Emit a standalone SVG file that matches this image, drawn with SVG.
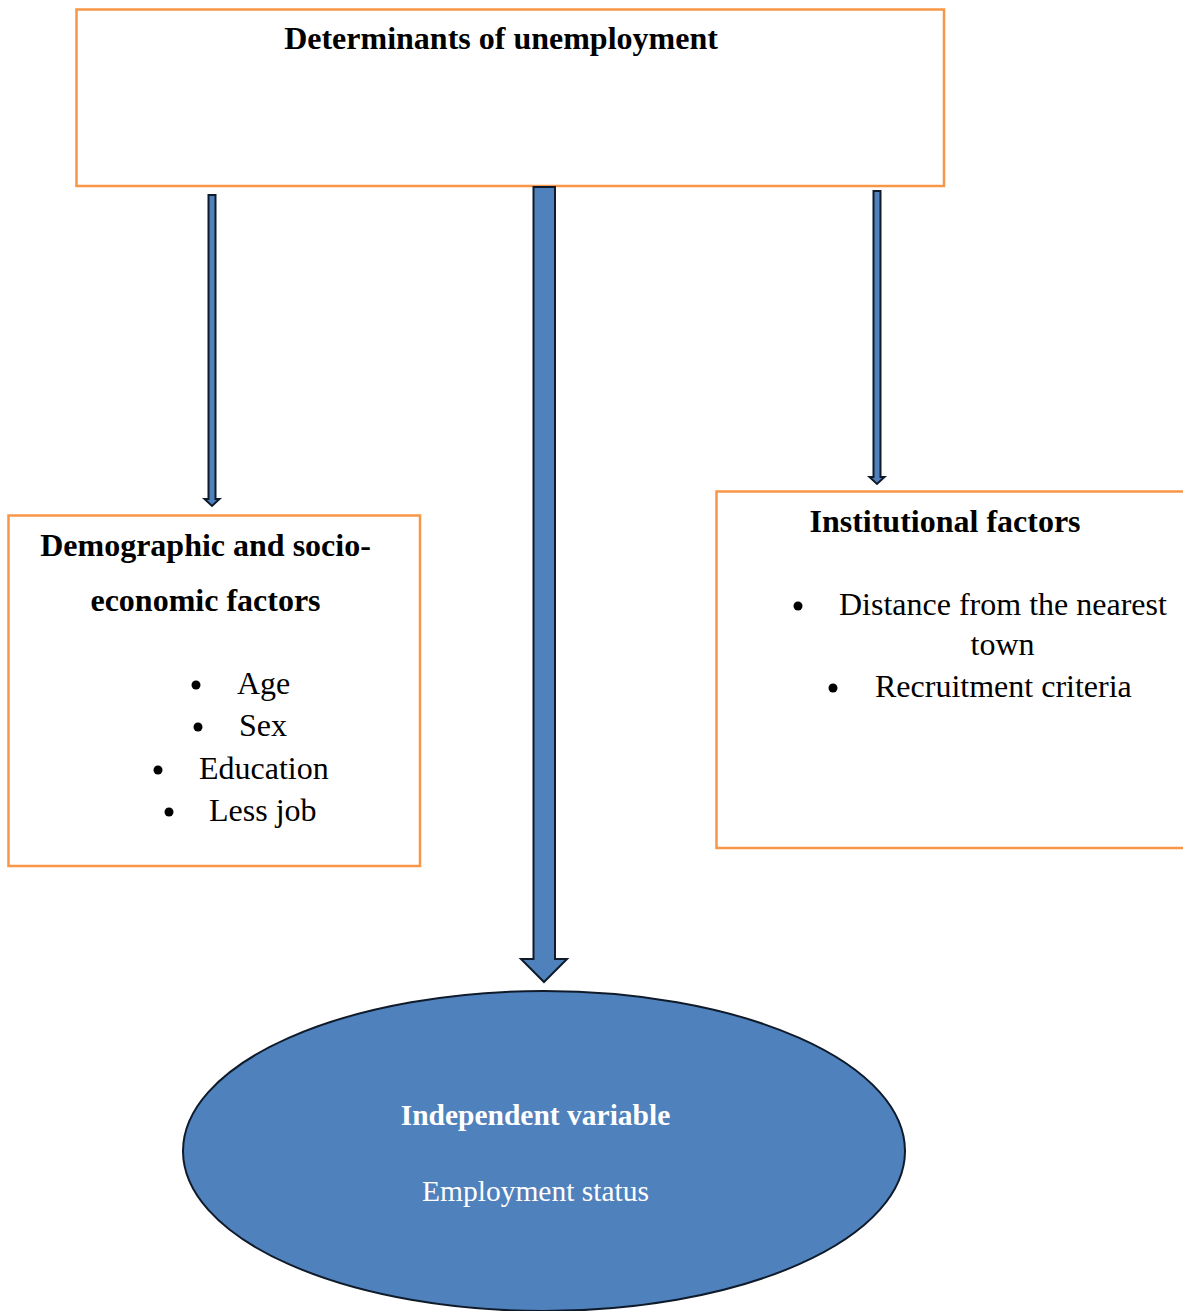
<svg xmlns="http://www.w3.org/2000/svg" width="1183" height="1311" viewBox="0 0 1183 1311">
<style>
.box{fill:#fff;stroke:#F79646;stroke-width:2.5}
.t{font-family:"Liberation Serif","Times New Roman",serif;font-size:32px;fill:#000}
.b{font-weight:bold}
.w{fill:#fff;font-size:29.5px}
.arr{fill:#4F81BD;stroke:#0F1B2A;stroke-width:2;stroke-linejoin:miter}
</style>
<rect width="1183" height="1311" fill="#fff"/>
<g id="top">
<rect class="box" x="76.5" y="9.5" width="867.5" height="176.5"/>
<text class="t b" x="501" y="49" text-anchor="middle">Determinants of unemployment</text>
</g>
<g id="left">
<rect class="box" x="8.5" y="515.5" width="411.5" height="350.5"/>
<text class="t b" x="205.5" y="556" text-anchor="middle">Demographic and socio-</text>
<text class="t b" x="205.5" y="611" text-anchor="middle">economic factors</text>
<circle cx="196" cy="685" r="4.5"/><text class="t" x="237" y="694">Age</text>
<circle cx="198" cy="727" r="4.5"/><text class="t" x="239" y="736">Sex</text>
<circle cx="158" cy="770" r="4.5"/><text class="t" x="199" y="779">Education</text>
<circle cx="169" cy="812" r="4.5"/><text class="t" x="209" y="821">Less job</text>
</g>
<g id="right">
<rect class="box" x="716.5" y="491.5" width="480" height="356.5"/>
<text class="t b" x="945" y="532" text-anchor="middle">Institutional factors</text>
<circle cx="798" cy="606" r="4.5"/><text class="t" x="839" y="615">Distance from the nearest</text>
<text class="t" x="1002.5" y="655" text-anchor="middle">town</text>
<circle cx="833" cy="688" r="4.5"/><text class="t" x="875" y="697">Recruitment criteria</text>
</g>
<g id="outcome">
<ellipse cx="544" cy="1151" rx="361" ry="160" fill="#4F81BD" stroke="#0F1B2A" stroke-width="2"/>
<text class="t b w" x="535.5" y="1125" text-anchor="middle">Independent variable</text>
<text class="t w" x="535.5" y="1201" text-anchor="middle">Employment status</text>
</g>
<g id="connectors">
<path class="arr" d="M208.5 195 H215.5 V499 H219.5 L212 506 L204.5 499 H208.5 Z"/>
<path class="arr" d="M873.5 191 H880.5 V477 H884.5 L877 484 L869.5 477 H873.5 Z"/>
<path class="arr" d="M533.5 187 H555 V959 H567 L544 982 L521 959 H533.5 Z"/>
</g>
</svg>
